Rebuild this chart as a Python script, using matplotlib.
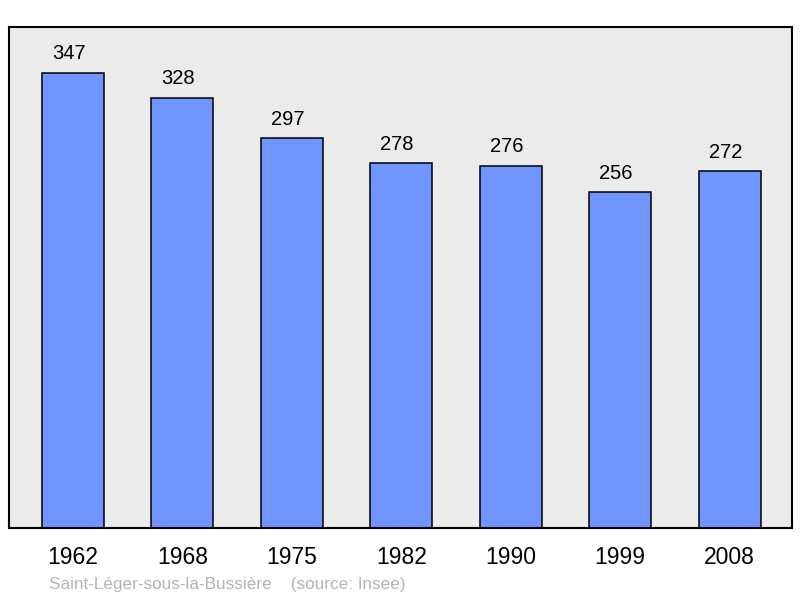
import matplotlib.pyplot as plt

plt.rcParams['font.family'] = ['Liberation Sans', 'DejaVu Sans']

# Population data (source: Insee)
years = ['1962', '1968', '1975', '1982', '1990', '1999', '2008']
population = [347, 328, 297, 278, 276, 256, 272]

fig = plt.figure(figsize=(8, 5.98), dpi=100)
ax = fig.add_axes([9 / 800, 70 / 598, 783 / 800, 501 / 598])
ax.set_facecolor('#ebebeb')

x = range(len(years))
bars = ax.bar(x, population, width=0.566, color='#7095ff',
              edgecolor='black', linewidth=1.1, zorder=2)

for xi, val in zip(x, population):
    ax.annotate(str(val), (xi, val), xytext=(-3, 7), textcoords='offset points',
                ha='center', va='bottom', fontsize=14.5)

ax.set_xlim(-0.584, 6.57)
ax.set_ylim(0, 382)
ax.set_xticks(list(x))
ax.set_xticklabels(years, fontsize=16.5)
ax.tick_params(axis='x', length=0, pad=13)
ax.set_yticks([])
for s in ax.spines.values():
    s.set_linewidth(1.5)

fig.text(49 / 800, 1 - 584 / 598, 'Saint-Léger-sous-la-Bussière    (source: Insee)',
         fontsize=12.3, color='#b4b4b4', va='center', ha='left')

fig.savefig('out.png', dpi=100)
